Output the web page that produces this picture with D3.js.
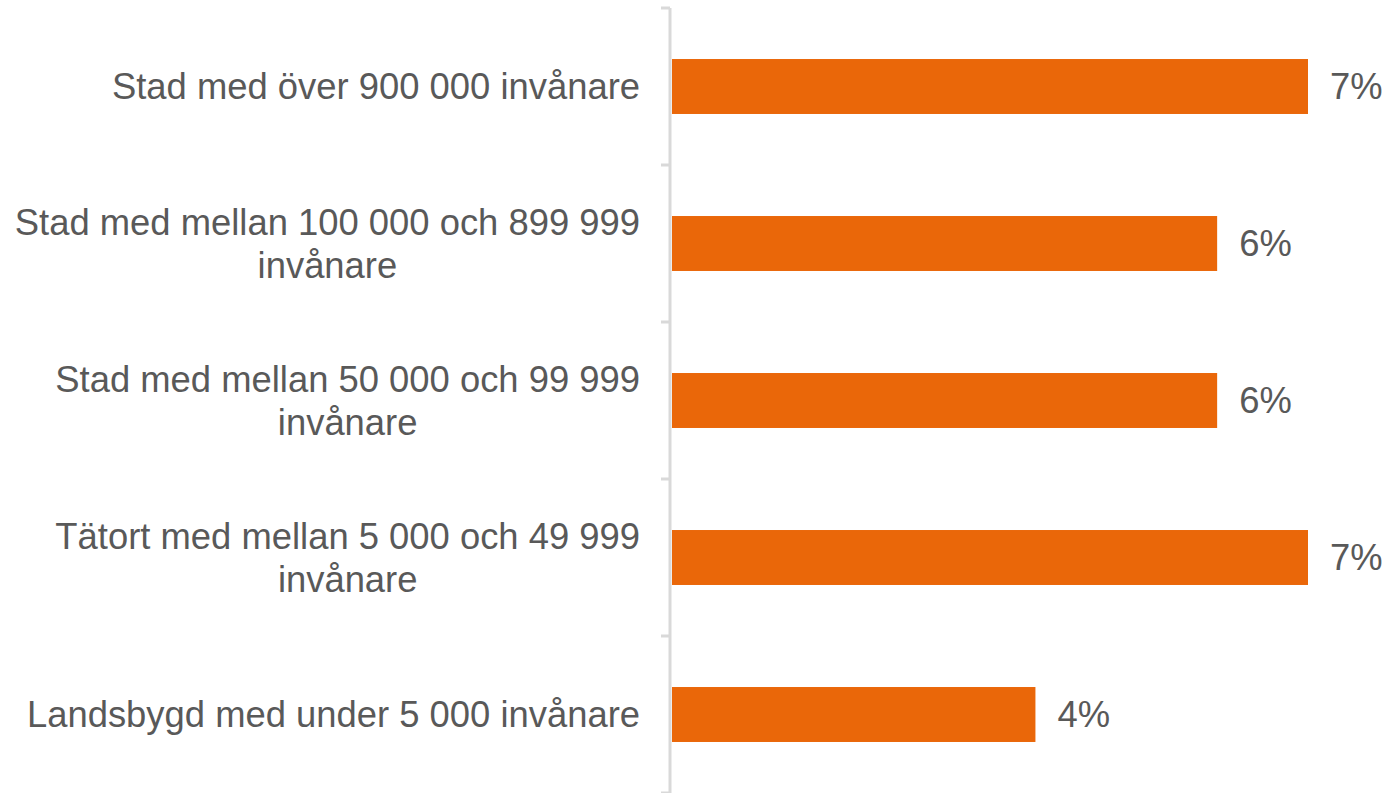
<!DOCTYPE html>
<html>
<head>
<meta charset="utf-8">
<script src="https://cdn.jsdelivr.net/npm/d3@7"></script>
<style>
  html, body { margin: 0; padding: 0; background: #fff; }
  svg { display: block; }
</style>
</head>
<body>
<div id="chart"></div>
<script>
// -------------------- Data --------------------
const categories = [
  ["Stad med över 900 000 invånare"],
  ["Stad med mellan 100 000 och 899 999", "invånare"],
  ["Stad med mellan 50 000 och 99 999", "invånare"],
  ["Tätort med mellan 5 000 och 49 999", "invånare"],
  ["Landsbygd med under 5 000 invånare"]
];
const values = [0.07, 0.06, 0.06, 0.07, 0.04];
const valueLabels = ["7%", "6%", "6%", "7%", "4%"];

// -------------------- Layout --------------------
const width = 1391, height = 793;
const axisX = 670;
const plotTop = 8, plotBottom = 793;
const fontSize = "36.4px";

const svg = d3.select("#chart").append("svg")
  .attr("width", width)
  .attr("height", height);

const y = d3.scaleBand()
  .domain(d3.range(categories.length))
  .range([plotTop, plotBottom])
  .paddingInner(0.65)
  .paddingOuter(0.325);

const x = d3.scaleLinear()
  .domain([0, 0.07])
  .range([axisX + 2, 1308]);

// -------------------- Axis --------------------
const band = (plotBottom - plotTop) / categories.length;
svg.append("line")
  .attr("x1", axisX).attr("x2", axisX)
  .attr("y1", plotTop).attr("y2", plotBottom)
  .attr("stroke", "#d9d9d9").attr("stroke-width", 3);

svg.append("g").selectAll("line")
  .data(d3.range(categories.length + 1))
  .join("line")
  .attr("x1", axisX - 9).attr("x2", axisX)
  .attr("y1", d => plotTop + d * band)
  .attr("y2", d => plotTop + d * band)
  .attr("stroke", "#d9d9d9").attr("stroke-width", 3);

// -------------------- Bars --------------------
svg.append("g").selectAll("rect")
  .data(values)
  .join("rect")
  .attr("x", x(0))
  .attr("y", (d, i) => y(i))
  .attr("width", d => x(d) - x(0))
  .attr("height", y.bandwidth())
  .attr("fill", "#ea6709");

// -------------------- Value labels --------------------
svg.append("g").selectAll("text")
  .data(values)
  .join("text")
  .attr("x", d => x(d) + 22)
  .attr("y", (d, i) => y(i) + y.bandwidth() / 2)
  .attr("dy", "0.35em")
  .attr("fill", "#595959")
  .style("font-family", "'Liberation Sans', Arial, sans-serif")
  .style("font-size", fontSize)
  .text((d, i) => valueLabels[i]);

// -------------------- Category labels --------------------
const lineH = 43;
const labels = svg.append("g").selectAll("text")
  .data(categories)
  .join("text")
  .attr("text-anchor", "middle")
  .attr("fill", "#595959")
  .style("font-family", "'Liberation Sans', Arial, sans-serif")
  .style("font-size", fontSize);

labels.each(function (lines, i) {
  const cy = y(i) + y.bandwidth() / 2;
  const t = d3.select(this);
  lines.forEach((ln, j) => {
    t.append("tspan")
      .attr("y", cy + (j - (lines.length - 1) / 2) * lineH)
      .attr("dy", "0.35em")
      .text(ln);
  });
});

// center all lines of a label on the widest line, right edge at 640
labels.each(function () {
  const t = d3.select(this);
  const w = d3.max(t.selectAll("tspan").nodes(), n => n.getComputedTextLength());
  t.selectAll("tspan").attr("x", 640 - w / 2);
});
</script>
</body>
</html>
